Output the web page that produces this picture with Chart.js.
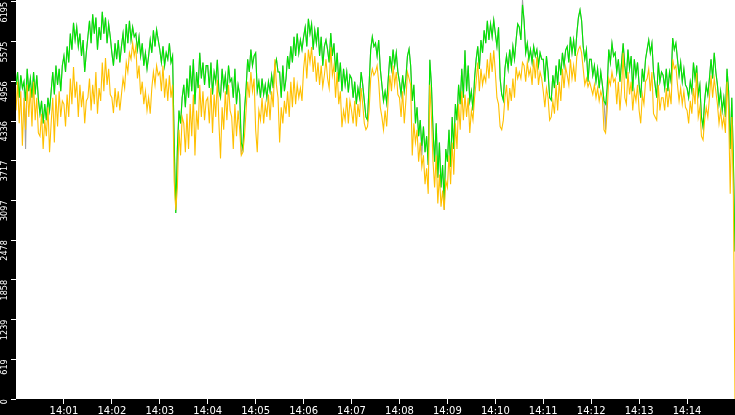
<!DOCTYPE html>
<html>
<head>
<meta charset="utf-8">
<script src="https://cdn.jsdelivr.net/npm/chart.js@4/dist/chart.umd.min.js"></script>
<style>
html,body{margin:0;padding:0;background:#000;}
#wrap{width:735px;height:415px;}
</style>
</head>
<body>
<div id="wrap"><canvas id="c" width="735" height="415"></canvas></div>
<script>
// Tick labels
const X_TICK_SECS = [60,120,180,240,300,360,420,480,540,600,660,720,780,840];
const X_TICK_LABELS = ["14:01","14:02","14:03","14:04","14:05","14:06","14:07","14:08","14:09","14:10","14:11","14:12","14:13","14:14"];
const Y_TICK_VALUES = [0,619.5,1239,1858.5,2478,3097.5,3717,4336.5,4956,5575.5,6195];
const Y_TICK_LABELS = ["0","619","1239","1858","2478","3097","3717","4336","4956","5575","6195"];
const Y_MAX = 6224;
const STEP_SECONDS = 2; // one sample every 2 seconds from 14:00:00

// Series values (one sample per 2 s, 14:00:00 .. 14:15:00)
const green = [
4900,5100,4700,5050,4850,4950,4650,5150,4800,5000,4700,5100,4750,5050,4680,
4450,4650,4300,4600,4350,4700,4500,4800,5100,4750,5200,4900,5150,4800,5200,
5350,5100,5500,5250,5700,5450,5870,5600,5800,5500,5700,5350,5600,5100,5400,
5650,5900,5550,6000,5700,5950,5450,5800,5600,6040,5700,5950,5550,5850,5650,
5400,5200,5550,5300,5600,5250,5500,5700,5400,5850,5550,5900,5600,5800,5650,
5700,5450,5650,5350,5550,5200,5400,5150,5350,5600,5400,5750,5500,5760,5600,
5450,5250,5500,5200,5400,5300,5550,5250,5350,4000,2900,3900,4500,4300,4700,
4900,4550,5000,4700,5200,4800,5300,4600,5100,4850,5400,5000,5250,4900,5200,
5200,4850,5250,4750,5100,4950,5290,4800,4700,5150,4850,5050,4750,5200,4950,
5000,4700,5150,4600,4900,4750,4000,3900,4500,4850,5300,5100,5450,5200,5350,
5400,4800,4950,4700,5000,4750,4900,4700,4950,4800,5050,4850,5200,5300,5100,
5100,4700,5200,4800,5000,5350,5150,5500,5250,5650,5350,5700,5400,5600,5450,
5650,5800,5500,5930,5700,5850,5450,5750,5550,5800,5350,5650,5200,5500,5600,
5450,5250,5710,5350,5550,5100,5400,4950,5250,4800,5150,4900,5100,4780,5050,
5000,4700,4950,4600,4850,4700,5100,4900,4650,4400,4350,4900,5450,5650,5500,
5550,5350,5600,5150,4900,4650,4800,4620,5000,5350,5150,5450,5200,5400,5100,
4950,4750,5050,4800,5000,5350,5460,5200,4650,4900,4300,4550,4100,4350,3950,
4250,3850,4100,3650,5290,4900,4200,3700,4300,3450,4000,3300,3650,3100,3900,
3700,4200,3620,4400,3900,4600,4350,4900,4600,5150,4700,5440,4800,5200,4650,
4800,4500,5000,5300,5500,5150,5600,5400,5750,5550,5900,5600,5850,5650,5910,
5700,5500,5800,5000,4750,4660,5150,5350,5150,5450,5200,5500,5300,5600,5850,
5800,5600,6150,5900,5400,5550,5300,5450,5250,5500,5350,5450,5200,5400,5300,
5300,4950,5350,5100,4700,4660,5050,4850,5200,4900,5300,5050,5400,5200,5440,
5500,5250,5650,5400,5600,5350,5700,5950,6070,5900,5500,5300,5450,4950,5300,
5300,5050,5200,4950,5150,4850,5100,4900,4650,4600,4850,5450,5250,5550,5350,
5400,5100,5300,4950,5250,5550,5200,5000,5450,5150,5350,4800,5300,5050,5250,
4900,4700,5150,4950,5300,5450,5600,5400,5550,5100,4900,4700,5250,4950,5100,
5050,4850,5150,4800,5100,4950,5630,5450,5550,5300,5050,5250,4950,5150,4900,
4850,4700,4950,4800,5250,5000,5200,4750,4900,4400,4240,4650,4900,4750,5000,
5300,5000,5400,5100,4900,4600,4800,4500,4700,4400,5150,4800,3900,4700,3700,
2300
];
const orange = [
4500,4950,4300,4800,3950,4700,4200,4900,4400,4850,4250,4950,4350,4700,4150,
4100,4450,3900,4350,4100,4550,3850,4300,4700,4000,4750,4250,4800,4400,4650,
4600,4250,4750,4400,5000,4600,5180,4700,4950,4400,4900,4550,4800,4300,4650,
4700,5000,4500,4900,4600,5100,4450,4850,4650,5250,4800,5320,4900,5150,4750,
4700,4460,4850,4550,4800,4500,4750,5000,4850,5250,5100,5400,5300,5550,5350,
5500,5000,5200,4750,4950,4600,4800,4500,4700,4450,4850,5100,4900,5200,5050,
5100,4800,5200,4700,5000,4650,5050,4700,4900,3400,2950,3300,4200,3800,4400,
4300,3850,4450,3900,4600,4100,4750,3800,4500,4200,4900,4400,4800,4350,4650,
4700,4300,4850,4150,4750,4400,4980,4300,3750,4550,4200,4800,4350,4900,4500,
4400,3900,4600,4100,4500,4200,3800,3850,4100,4500,4950,4700,5100,4800,5000,
4200,3850,4500,4350,4700,4300,4600,4400,4750,4350,4800,4550,5300,4900,4700,
4000,4550,4300,4650,4450,4800,4400,4950,4550,5020,4600,4900,4700,4850,4650,
5150,5400,5000,5450,5250,5490,5100,5350,4950,5250,4900,5200,4870,5050,5300,
5000,4850,5490,5050,5200,4700,5100,4600,4800,4240,4500,4350,4700,4300,4650,
4500,4300,4650,4250,4600,4400,4850,4600,4300,4200,4250,4500,5000,5150,5050,
5100,5200,4950,4550,4400,4200,4500,4250,4700,5050,4800,5200,4900,5100,4750,
4700,4400,4800,4300,4650,5100,5000,4900,3800,4300,4000,4200,3700,4000,3620,
3800,3350,3600,3200,4900,4400,3700,3300,3800,3050,3500,3000,3250,2950,3400,
3300,3800,3350,4000,3500,4300,3900,4600,4200,4800,4350,4750,4400,4700,4150,
4500,4350,4700,4950,5250,4800,5150,4900,5050,4950,5300,5000,5400,5100,5440,
5100,4700,4600,4250,4200,4350,4700,4900,4500,4850,4650,5000,4700,5180,5000,
5100,5000,5250,5200,4950,5250,5050,5150,4900,5300,5000,5340,4900,5100,5000,
4800,4550,4850,4700,4350,4400,4650,4450,4900,4500,4950,4650,5150,4850,5180,
5050,4900,5300,5000,5200,4950,5350,5450,5500,5400,5150,4900,5000,4870,4950,
4850,4750,4900,4700,4850,4650,4800,4700,4200,4150,4500,5000,4900,5100,4950,
5000,4600,4950,4500,4850,5400,4700,4600,5100,4750,4950,4500,4800,4650,4900,
4500,4300,4750,4600,4950,5000,5150,4800,5100,4450,4400,4350,4900,4500,4700,
4700,4500,4850,4550,4800,4600,5300,5150,5200,4900,4650,4850,4600,4800,4550,
4500,4300,4650,4450,4850,4600,5090,4400,4550,4100,4040,4350,4550,4400,4700,
5050,4700,5000,4800,4600,4300,4500,4250,4400,4150,4950,4500,3200,4400,3150,
0
];
const gray = [
4900,5100,4700,5050,4850,4950,3900,5150,4800,5000,4700,5100,4750,5050,4680,
4450,4650,4300,4600,4350,4700,4500,4800,5100,4750,5200,4900,5150,4800,5200,
5350,5100,5500,5250,5700,5450,5870,5600,5800,5500,5700,5350,5600,5100,5400,
5650,5900,5550,6000,5700,5950,5450,5800,5600,6040,5700,5950,5550,5850,5650,
5400,5200,5550,5300,5600,5250,5500,5700,5400,5850,5550,5900,5600,5800,5650,
5700,5450,5650,5350,5550,5200,5400,5150,5350,5600,5400,5750,5500,5760,5600,
5450,5250,5500,5200,5400,5300,5550,5250,5350,4000,2900,3900,4500,4300,4700,
4900,4550,5000,4700,5200,4800,5300,4600,5100,4850,5400,5000,5250,4900,5200,
5200,4850,5250,4750,5100,4950,5290,4800,4700,5150,4850,5050,4750,5200,4950,
5000,4700,5150,4600,4900,4750,3850,3900,4500,4850,5300,5100,5450,5200,5350,
5400,4800,4950,4700,5000,4750,4900,4700,4950,4800,5050,4850,5200,5300,5100,
5100,4700,5200,4800,5000,5350,5150,5500,5250,5650,5350,5700,5400,5600,5450,
5650,5800,5500,5930,5700,5850,5450,5750,5550,5800,5350,5650,5200,5500,5600,
5450,5250,5710,5350,5550,5100,5400,4950,5250,4800,5150,4900,5100,4780,5050,
5000,4700,4950,4600,4850,4700,5100,4900,4650,4400,4350,4900,5450,5650,5500,
5550,5350,5600,5150,4900,4650,4800,4620,5000,5350,5150,5450,5200,5400,5100,
4950,4750,5050,4800,5000,5350,5460,5200,4650,4900,4300,4550,4100,4350,3800,
4250,3850,4100,3650,5290,4900,4200,3700,4300,3450,4000,3300,3650,2950,3900,
3700,4200,3620,4400,3900,4600,4350,4900,4600,5150,4700,5440,4800,5200,4650,
4800,4500,5000,5300,5500,5150,5600,5400,5750,5550,5900,5600,5850,5650,5910,
5700,5500,5800,5000,4750,4660,5150,5350,5150,5450,5200,5500,5300,5600,5850,
5800,5600,6224,5900,5400,5550,5300,5450,5250,5500,5350,5450,5200,5400,5300,
5300,4950,5350,5100,4700,4660,5050,4850,5200,4900,5300,5050,5400,5200,5440,
5500,5250,5650,5400,5600,5350,5700,5950,6070,5900,5500,5300,5450,4950,5300,
5300,5050,5200,4950,5150,4850,5100,4900,4650,4200,4850,5450,5250,5550,5350,
5400,5100,5300,4950,5250,5550,5200,5000,5450,5150,5350,4800,5300,5050,5250,
4900,4700,5150,4950,5300,5450,5600,5400,5550,5100,4900,4700,5250,4950,5100,
5050,4850,5150,4800,5100,4950,5630,5450,5550,5300,5050,5250,4950,5150,4900,
4850,4700,4950,4800,5250,5000,5200,4750,4900,4400,4240,4650,4900,4750,5000,
5300,5000,5400,5100,4900,4600,4800,4500,4700,4400,5150,4800,3900,4700,3700,
2300
];

// time of each sample in seconds after 14:00:00
const seconds = green.map((_, i) => i * STEP_SECONDS);

const bgPlugin = {
  id: 'bg',
  beforeDraw(chart) {
    const {ctx, chartArea: a} = chart;
    ctx.save();
    ctx.fillStyle = '#000';
    ctx.fillRect(0, 0, chart.width, chart.height);
    ctx.fillStyle = '#fff';
    ctx.fillRect(a.left, a.top, a.right - a.left, a.bottom - a.top);
    ctx.restore();
  }
};

const lineDs = (data, color) => ({
  data, borderColor: color, borderWidth: 1.1, pointRadius: 0, tension: 0, fill: false
});

new Chart(document.getElementById('c'), {
  type: 'line',
  data: {
    labels: seconds,
    datasets: [
      lineDs(orange, '#ffc000'),
      lineDs(green, 'rgb(0,230,0)'),
      lineDs(gray, '#a0a0a0')
    ]
  },
  options: {
    responsive: false,
    devicePixelRatio: 1,
    animation: false,
    layout: { padding: 0 },
    plugins: { legend: { display: false }, tooltip: { enabled: false } },
    scales: {
      x: {
        type: 'linear', min: 0, max: 900,
        afterBuildTicks: s => { s.ticks = X_TICK_SECS.map(v => ({ value: v })); },
        afterFit: s => { s.height = 16; s.paddingLeft = 0; s.paddingRight = 0; },
        ticks: {
          autoSkip: false, minRotation: 0, maxRotation: 0, color: '#fff', padding: 1,
          font: { family: 'DejaVu Sans', size: 10 },
          callback: (v, i) => X_TICK_LABELS[i]
        },
        grid: { drawOnChartArea: false, drawTicks: true, tickLength: 5, tickColor: '#fff', tickWidth: 1 },
        border: { display: false }
      },
      y: {
        type: 'linear', min: 0, max: Y_MAX,
        afterBuildTicks: s => { s.ticks = Y_TICK_VALUES.map(v => ({ value: v })); },
        afterFit: s => { s.width = 16; s.paddingTop = 0; s.paddingBottom = 0; },
        ticks: {
          autoSkip: false, minRotation: 90, maxRotation: 90, color: '#fff', padding: 6,
          font: { family: "'DejaVu Sans Condensed', 'DejaVu Sans'", size: 9 },
          callback: (v, i) => Y_TICK_LABELS[i]
        },
        grid: { drawOnChartArea: false, drawTicks: true, tickLength: 5, tickColor: '#fff', tickWidth: 1 },
        border: { display: false }
      }
    }
  },
  plugins: [bgPlugin]
});
</script>
</body>
</html>
